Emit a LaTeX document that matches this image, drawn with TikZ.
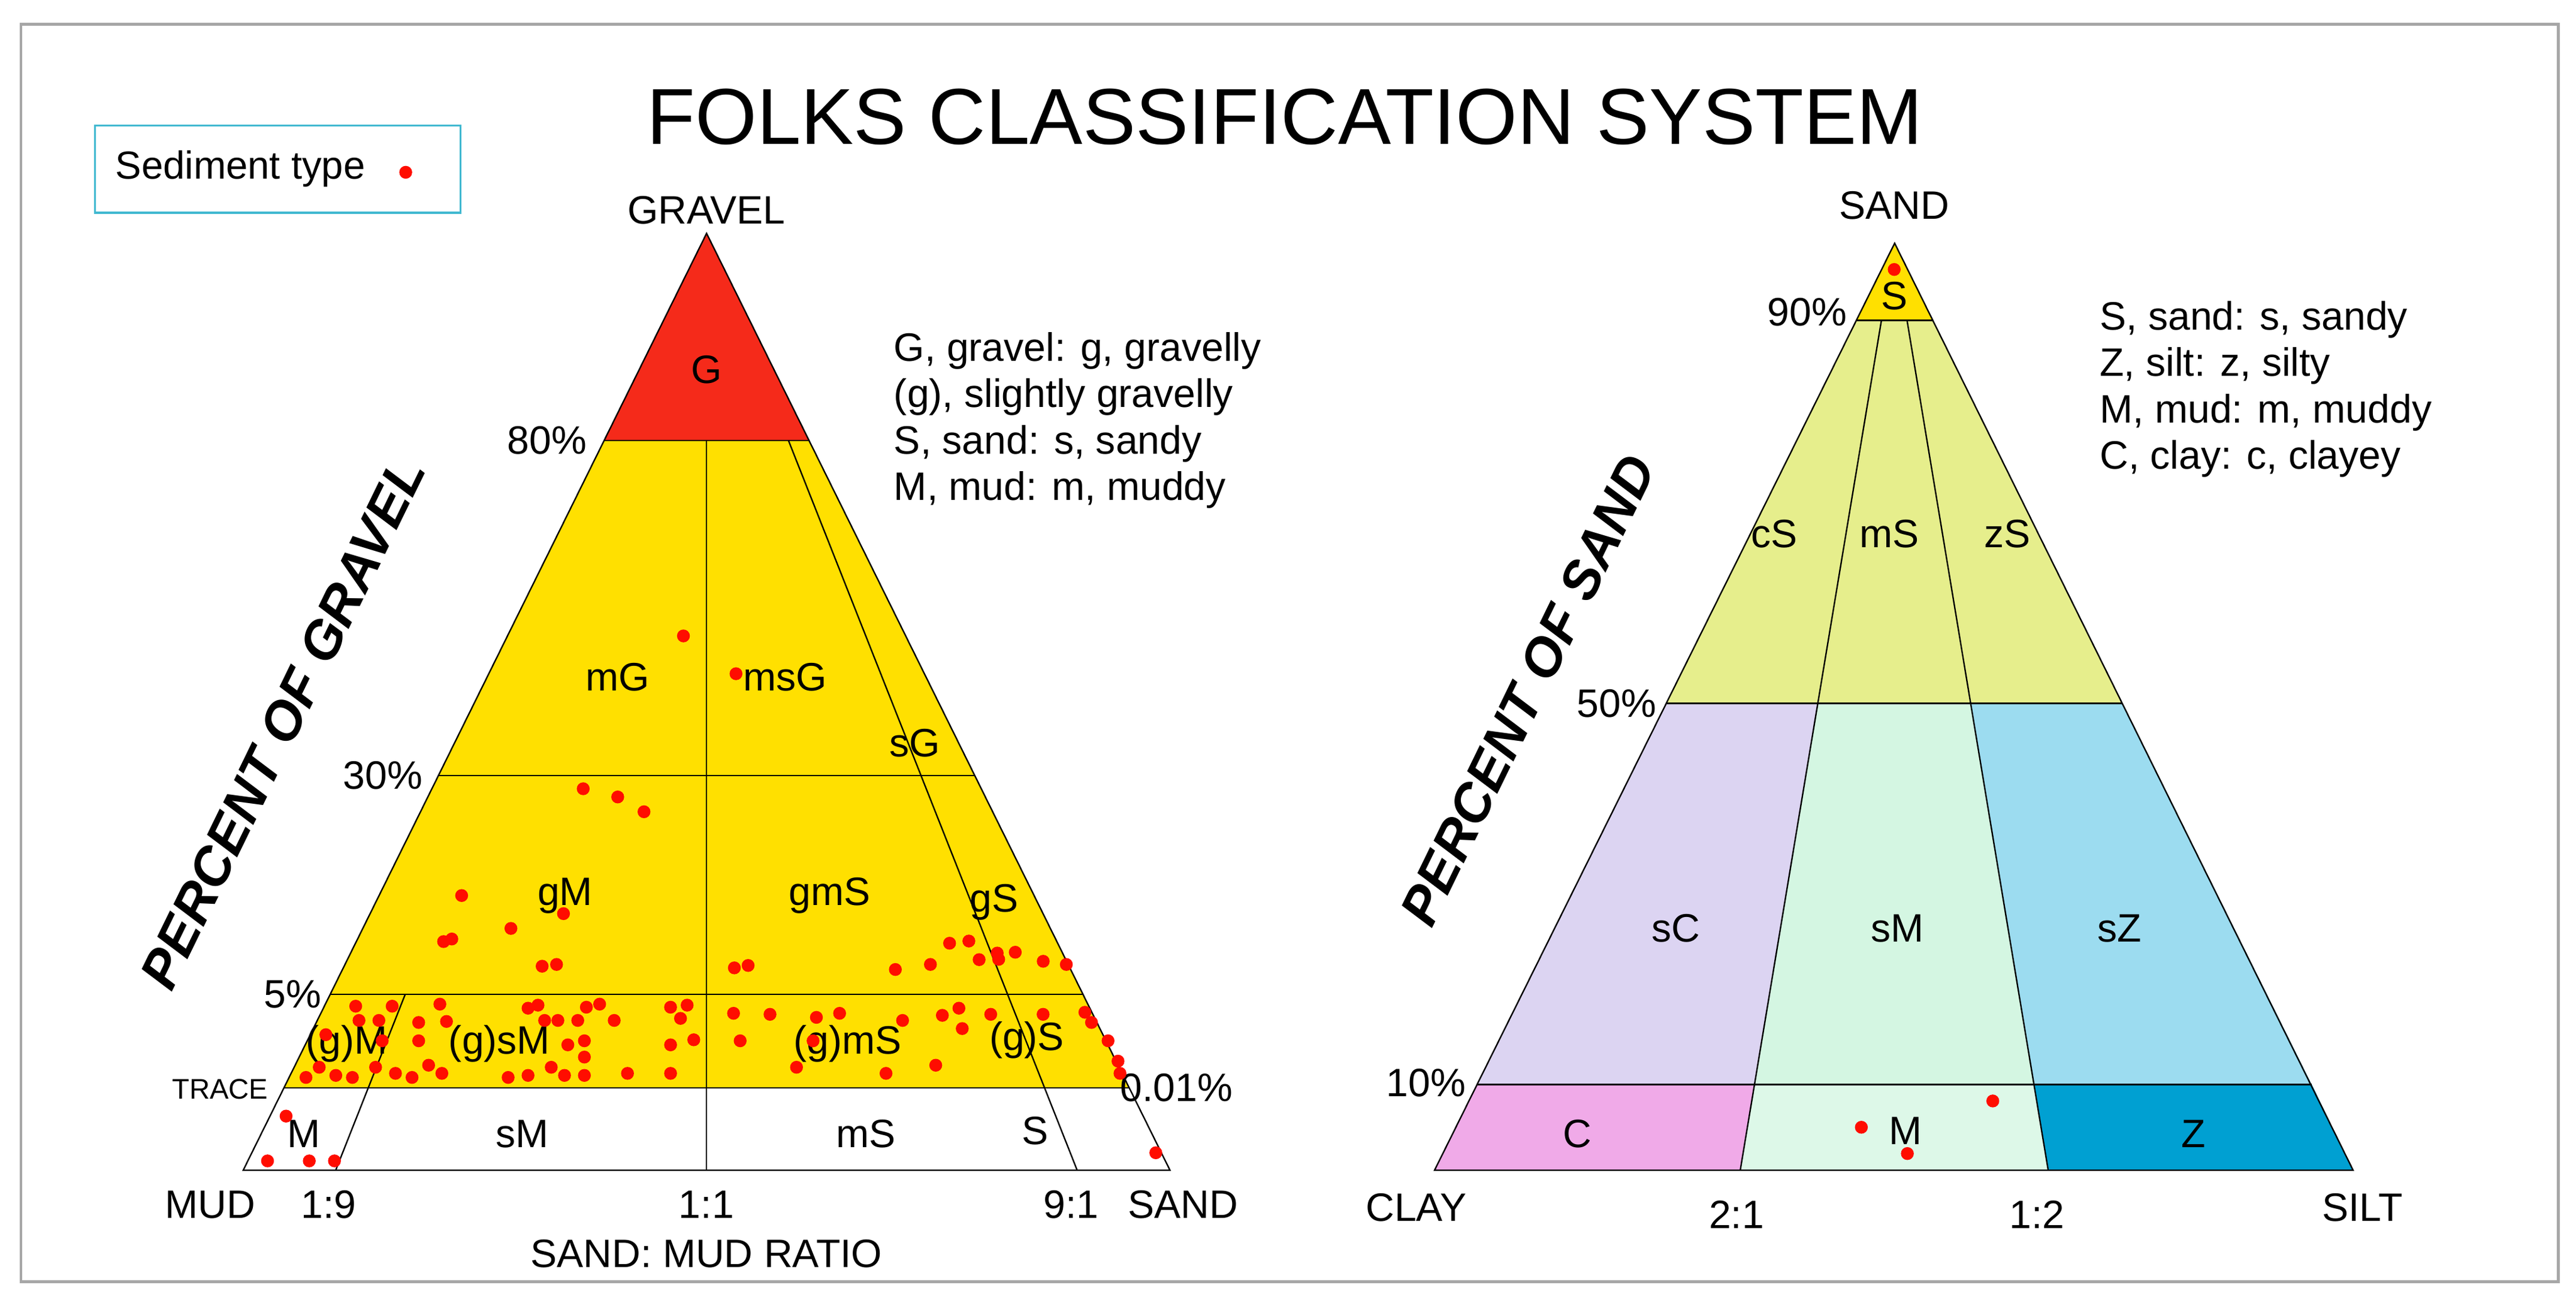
\documentclass[tikz,border=0pt]{standalone}
\usepackage{fontspec}
\setmainfont{Liberation Sans}
\definecolor{gravelred}{HTML}{F52A1A}
\definecolor{folkyel}{HTML}{FFE000}
\definecolor{sandgreen}{HTML}{E6EE8C}
\definecolor{lavend}{HTML}{DCD4F2}
\definecolor{mint}{HTML}{D4F6E2}
\definecolor{skyb}{HTML}{9CDCF0}
\definecolor{pinkc}{HTML}{F0AAE8}
\definecolor{deepb}{HTML}{00A0D2}
\definecolor{boxcyan}{HTML}{40B8D0}
\tikzset{
  zone/.style={font=\fontsize{7}{8}\selectfont},
  axislab/.style={font=\fontsize{7}{8}\selectfont},
  keytext/.style={font=\fontsize{7}{8.2}\selectfont,align=left,anchor=north west},
  bigaxis/.style={font=\fontsize{9.5}{10}\selectfont\bfseries\itshape,rotate=64},
  sed/.style={circle,fill=red!90!orange,inner sep=0pt,minimum size=0.08cm},
  thin line/.style={draw=black,line width=0.25pt}
}
\begin{document}
\begin{tikzpicture}[x=0.01cm,y=-0.01cm]
\useasboundingbox (0,0) rectangle (1600,807);
\draw[gray!70,line width=0.5pt] (13,15) rectangle (1589,796);
% legend
\draw[boxcyan,line width=0.4pt] (59,78) rectangle (286,132);
\node[font=\fontsize{6.9}{8}\selectfont,anchor=west,inner sep=0pt] (legend) at (71,105) {Sediment type};
\node[sed] (legdot) at (252,107) {};

\begin{scope}[scale=1.0204]
\node[font=\fontsize{14}{16}\selectfont] (title) at (782,71) {FOLKS CLASSIFICATION SYSTEM};

% left triangle
\coordinate (gA) at (430,142);
\coordinate (gBL) at (148,712);
\coordinate (gBR) at (712,712);
\fill[gravelred] (gA) -- (367.7,268) -- (492.3,268) -- cycle;
\fill[folkyel] (367.7,268) -- (492.3,268) -- (687.2,662) -- (172.8,662) -- cycle;
\draw[thin line] (gA) -- (gBL) -- (gBR) -- cycle;
\draw[thin line] (367.7,268) -- (492.3,268);
\draw[thin line] (266.8,472) -- (593.2,472);
\draw[thin line] (200.9,605) -- (659.1,605);
\draw[thin line] (172.8,662) -- (687.2,662);
\draw[thin line] (430,268) -- (430,712);
\draw[thin line] (246.7,605) -- (204.4,712);
\draw[thin line] (479.9,268) -- (655.6,712);

\node[axislab] (gravel) at (430,128) {GRAVEL};
\node[axislab] (p80) at (333,268) {80\%};
\node[axislab] (p30) at (233,472) {30\%};
\node[axislab] (p5) at (178,605) {5\%};
\node[font=\fontsize{5}{5}\selectfont] (trace) at (134,663) {TRACE};
\node[axislab] (p001) at (716,662) {0.01\%};
\node[axislab] (mud) at (128,733) {MUD};
\node[axislab] (r19) at (200,733) {1:9};
\node[axislab] (r11) at (430,733) {1:1};
\node[axislab] (r91) at (652,733) {9:1};
\node[axislab] (sandR) at (720,733) {SAND};
\node[axislab] (ratio) at (430,763) {SAND: MUD RATIO};
\node[bigaxis] (pgravel) at (172,440) {PERCENT OF GRAVEL};
\node[keytext] (gkey) at (532,190) {G, gravel: g, gravelly\\(g), slightly gravelly\\S, sand: s, sandy\\M, mud: m, muddy};

\node[zone] (zG) at (430,225) {G};
\node[zone] (zmG) at (376,412) {mG};
\node[zone] (zmsG) at (478,412) {msG};
\node[zone] (zsG) at (557,452) {sG};
\node[zone] (zgM) at (344,545) {gM};
\node[zone] (zgmS) at (505,545) {gmS};
\node[zone] (zgS) at (605,549) {gS};
\node[zone] (zgiM) at (211,635) {(g)M};
\node[zone] (zgsM) at (304,635) {(g)sM};
\node[zone] (zgmSi) at (516,635) {(g)mS};
\node[zone] (zgiS) at (625,633) {(g)S};
\node[zone] (zM) at (185,690) {M};
\node[zone] (zsM) at (318,690) {sM};
\node[zone] (zmS) at (527,690) {mS};
\node[zone] (zS) at (630,688) {S};

% sediment samples, gravel triangle
\foreach \x/\y [count=\i] in {416/387,448/410,355/480,376/485,392/494,281/545,343/556,
  270/573,311/565,330/588,447/589,578/574,596/584,607/580,635/585,545/590}
  \node[sed] (u\i) at (\x,\y) {};
\begin{scope}[shift={(111.6,564)},xscale=0.4035,yscale=0.1239]
\foreach \x/\y [count=\i] in {405/60,563/185,852/190,1127/185,1185/70,1230/160,1255/125,1332/185,
  260/390,315/390,265/460,295/460,215/530,300/560,205/690,
  185/740,230/730,255/740,290/690,355/470,397/465,355/560,370/680,320/720,345/740,
  390/720,387/380,520/400,535/385,545/460,565/460,595/460,608/395,628/380,650/460,
  605/560,580/580,605/640,555/690,575/730,605/730,490/740,520/730,670/720,735/720,
  735/580,770/555,735/395,760/385,750/450,830/425,885/430,955/445,990/425,840/560,
  925/690,1060/720,1085/460,1135/680,1145/435,1170/400,1175/500,1218/430,1297/430,
  1360/420,1370/470,1395/560,1410/660,1413/720,950/560,
  155/930,127/1150,190/1150,228/1150,1467/1110}
  \node[sed] (b\i) at (\x,\y) {};
\end{scope}

% right triangle
\coordinate (sA) at (1153,148);
\coordinate (sBL) at (873,712);
\coordinate (sBR) at (1432,712);
\fill[folkyel] (sA) -- (1129.7,195) -- (1176.3,195) -- cycle;
\fill[sandgreen] (1129.7,195) -- (1176.3,195) -- (1292,428) -- (1014,428) -- cycle;
\fill[lavend] (1014,428) -- (1106.5,428) -- (1068,660) -- (898.8,660) -- cycle;
\fill[mint] (1106.5,428) -- (1199.5,428) -- (1238,660) -- (1068,660) -- cycle;
\fill[skyb] (1199.5,428) -- (1292,428) -- (1407.2,660) -- (1238,660) -- cycle;
\fill[pinkc] (898.8,660) -- (1068,660) -- (1059.3,712) -- (sBL) -- cycle;
\fill[mint!80!white] (1068,660) -- (1238,660) -- (1246.7,712) -- (1059.3,712) -- cycle;
\fill[deepb] (1238,660) -- (1407.2,660) -- (sBR) -- (1246.7,712) -- cycle;
\draw[thin line] (sA) -- (sBL) -- (sBR) -- cycle;
\draw[thin line] (1129.7,195) -- (1176.3,195);
\draw[thin line] (1014,428) -- (1292,428);
\draw[thin line] (898.8,660) -- (1407.2,660);
\draw[thin line] (1145.2,195) -- (1059.3,712);
\draw[thin line] (1160.8,195) -- (1246.7,712);

\node[axislab] (sand) at (1153,125) {SAND};
\node[axislab] (q90) at (1100,190) {90\%};
\node[axislab] (q50) at (984,428) {50\%};
\node[axislab] (q10) at (868,659) {10\%};
\node[axislab] (clay) at (862,735) {CLAY};
\node[axislab] (r21) at (1057,739) {2:1};
\node[axislab] (r12) at (1240,739) {1:2};
\node[axislab] (silt) at (1438,735) {SILT};
\node[bigaxis] (psand) at (930,420) {PERCENT OF SAND};
\node[keytext] (skey) at (1266,171) {S, sand: s, sandy\\Z, silt: z, silty\\M, mud: m, muddy\\C, clay: c, clayey};

\node[zone] (yS) at (1153,180) {S};
\node[zone] (ycS) at (1080,325) {cS};
\node[zone] (ymS) at (1150,325) {mS};
\node[zone] (yzS) at (1222,325) {zS};
\node[zone] (ysC) at (1020,565) {sC};
\node[zone] (ysM) at (1155,565) {sM};
\node[zone] (ysZ) at (1290,565) {sZ};
\node[zone] (yC) at (960,690) {C};
\node[zone] (yM) at (1160,688) {M};
\node[zone] (yZ) at (1335,690) {Z};

\foreach \x/\y [count=\i] in {1153/164,1133/686,1213/670,1161/702}
  \node[sed] (s\i) at (\x,\y) {};
\end{scope}
\end{tikzpicture}
\end{document}
